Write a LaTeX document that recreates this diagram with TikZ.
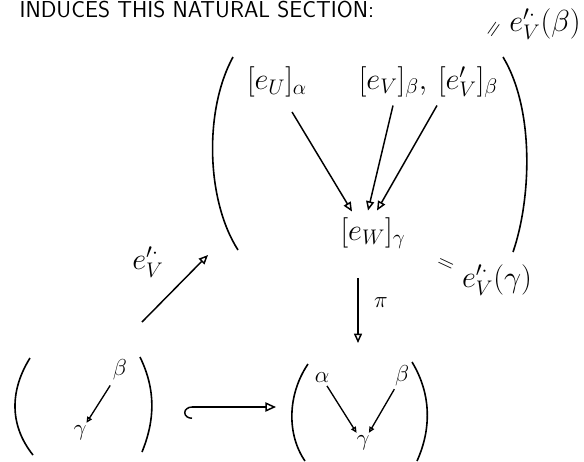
\documentclass[tikz,border=0pt]{standalone}
\usepackage{tikz}
\usetikzlibrary{arrows.meta,calc}
\tikzset{
  every node/.style={font=\huge,inner sep=1pt},
  sec/.style={scale=1.1},
  hd/.style={font=\LARGE\sffamily,anchor=base west},
  grk/.style={font=\LARGE,inner sep=2pt},
  eqs/.style={font=\LARGE,inner sep=0pt},
  ar/.style={-{Triangle[open,length=7pt,width=6pt]},line width=1.1pt},
  sm/.style={-{Triangle[open,length=4.5pt,width=4pt]},line width=1pt},
  hk/.style={{Hooks[left,length=6pt,width=18pt]}-{Triangle[open,length=8pt,width=7pt]},line width=1.1pt},
  paren/.style={line width=1.2pt},
}

\begin{document}
\begin{tikzpicture}[x=0.75pt,y=-0.75pt]
\useasboundingbox (0,0) rectangle (584,461);

% heading
\node[hd] (head) at (18,17) {INDUCES THIS NATURAL SECTION:};

% top sheaf: sections over U, V, W
\node[sec] (eu)  at (277,82)  {$[e_U]_\alpha$};
\node[sec] (ev)  at (393,82)  {$[e_V]_\beta,$};
\node[sec] (evp) at (468,82)  {$[e'_V]_\beta$};
\node[sec] (ew)  at (373,233) {$[e_W]_\gamma$};
\draw[ar] ($(eu.south)+(15,13)$)  -- ($(ew.north)+(-21,-4)$);
\draw[ar] ($(ev.south)+(0,6)$)    -- ($(ew.north)+(-5,-5)$);
\draw[ar] ($(evp.south)+(-31,6)$) -- ($(ew.north)+(4,-5)$);
\draw[paren] (233,57) .. controls (204,110) and (206,200) .. (238,250);
\draw[paren] (503,57) .. controls (535,110) and (531,200) .. (513,252);

% values of the section
\node[eqs,rotate=55]  (eq1) at (495,30)  {$=$};
\node[sec] (eb) at (545,24)  {$e^{\prime\cdot}_V(\beta)$};
\node[eqs,rotate=-25] (eq2) at (445,265) {$=$};
\node[sec] (eg) at (497,280) {$e^{\prime\cdot}_V(\gamma)$};

% the section e'_V
\coordinate (ls) at (142,322);
\coordinate (le) at (208,255);
\draw[ar] (ls) -- (le);
\node[sec] (elab) at (148,262) {$e^{\prime\cdot}_V$};

% projection
\coordinate (pt) at (358,278);
\coordinate (pb) at (358,343);
\draw[ar] (pt) -- (pb);
\node[grk] (pi) at (381,303) {$\pi$};

% bottom left
\node[grk] (b1) at (120,370) {$\beta$};
\node[grk] (g1) at (80,433)  {$\gamma$};
\draw[sm,shorten <=2pt] (b1) -- (g1);
\draw[paren] (30,358) .. controls (10,390) and (9,425) .. (33,455);
\draw[paren] (140,357) .. controls (156,390) and (155,420) .. (142,452);

% inclusion
\coordinate (hs) at (184,407);
\coordinate (he) at (276,407);
\draw[hk] (hs) -- (he);

% bottom right
\node[grk] (a2) at (322,378) {$\alpha$};
\node[grk] (b2) at (402,376) {$\beta$};
\node[grk] (g2) at (363,443) {$\gamma$};
\draw[sm] (a2) -- (g2);
\draw[sm] (b2) -- (g2);
\draw[paren] (308,364) .. controls (287,395) and (287,435) .. (305,461);
\draw[paren] (412,362) .. controls (432,395) and (431,430) .. (417,461);
\end{tikzpicture}
\end{document}
